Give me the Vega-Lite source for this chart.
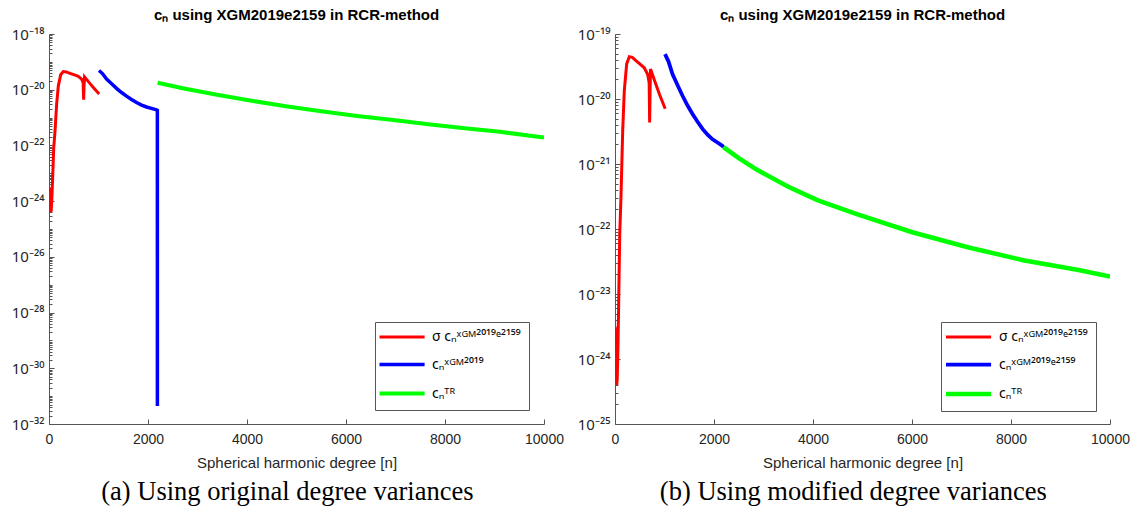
{
  "$schema": "https://vega.github.io/schema/vega-lite/v6.json",
  "background": "white",
  "padding": {"left": 11, "top": 8, "right": 5, "bottom": 5},
  "spacing": 13,
  "config": {
    "font": "Liberation Sans",
    "view": {"stroke": null},
    "axis": {
      "grid": false,
      "domainColor": "#555555",
      "tickColor": "#555555",
      "labelColor": "#262626",
      "titleColor": "#262626",
      "labelFontSize": 14,
      "titleFontSize": 15,
      "titleFontWeight": "normal",
      "tickSize": -5,
      "labelFlush": false,
      "labelOverlap": false
    },
    "title": {"fontSize": 15, "fontWeight": "bold", "color": "#000000", "font": "Liberation Sans"},
    "legend": {
      "orient": "none",
      "legendX": 326,
      "legendY": 288,
      "direction": "vertical",
      "title": null,
      "strokeColor": "#555555",
      "fillColor": "white",
      "padding": 8,
      "symbolType": "M-2,0H6.2",
      "symbolSize": 121,
      "symbolStrokeWidth": 3,
      "labelOffset": 34,
      "labelFont": "Noto Sans",
      "labelFontSize": 14,
      "labelColor": "#000000",
      "rowPadding": 13
    }
  },
  "datasets": {
    "left": [
      {"n": 2, "c": 3.16e-24, "s": "σ cₙˣᴳᴹ²⁰¹⁹ᵉ²¹⁵⁹"},
      {"n": 8, "c": 1.12e-24, "s": "σ cₙˣᴳᴹ²⁰¹⁹ᵉ²¹⁵⁹"},
      {"n": 14, "c": 2.82e-24, "s": "σ cₙˣᴳᴹ²⁰¹⁹ᵉ²¹⁵⁹"},
      {"n": 20, "c": 6.31e-25, "s": "σ cₙˣᴳᴹ²⁰¹⁹ᵉ²¹⁵⁹"},
      {"n": 27, "c": 2.51e-24, "s": "σ cₙˣᴳᴹ²⁰¹⁹ᵉ²¹⁵⁹"},
      {"n": 35, "c": 3.98e-25, "s": "σ cₙˣᴳᴹ²⁰¹⁹ᵉ²¹⁵⁹"},
      {"n": 45, "c": 5.01e-25, "s": "σ cₙˣᴳᴹ²⁰¹⁹ᵉ²¹⁵⁹"},
      {"n": 60, "c": 1.585e-24, "s": "σ cₙˣᴳᴹ²⁰¹⁹ᵉ²¹⁵⁹"},
      {"n": 75, "c": 7.94e-24, "s": "σ cₙˣᴳᴹ²⁰¹⁹ᵉ²¹⁵⁹"},
      {"n": 95, "c": 7.94e-23, "s": "σ cₙˣᴳᴹ²⁰¹⁹ᵉ²¹⁵⁹"},
      {"n": 121, "c": 3.16e-22, "s": "σ cₙˣᴳᴹ²⁰¹⁹ᵉ²¹⁵⁹"},
      {"n": 155, "c": 3.16e-21, "s": "σ cₙˣᴳᴹ²⁰¹⁹ᵉ²¹⁵⁹"},
      {"n": 188, "c": 1.349e-20, "s": "σ cₙˣᴳᴹ²⁰¹⁹ᵉ²¹⁵⁹"},
      {"n": 236, "c": 3.467e-20, "s": "σ cₙˣᴳᴹ²⁰¹⁹ᵉ²¹⁵⁹"},
      {"n": 289, "c": 4.467e-20, "s": "σ cₙˣᴳᴹ²⁰¹⁹ᵉ²¹⁵⁹"},
      {"n": 350, "c": 4.365e-20, "s": "σ cₙˣᴳᴹ²⁰¹⁹ᵉ²¹⁵⁹"},
      {"n": 423, "c": 3.89e-20, "s": "σ cₙˣᴳᴹ²⁰¹⁹ᵉ²¹⁵⁹"},
      {"n": 500, "c": 3.467e-20, "s": "σ cₙˣᴳᴹ²⁰¹⁹ᵉ²¹⁵⁹"},
      {"n": 591, "c": 3.02e-20, "s": "σ cₙˣᴳᴹ²⁰¹⁹ᵉ²¹⁵⁹"},
      {"n": 659, "c": 2.40e-20, "s": "σ cₙˣᴳᴹ²⁰¹⁹ᵉ²¹⁵⁹"},
      {"n": 690, "c": 1.778e-20, "s": "σ cₙˣᴳᴹ²⁰¹⁹ᵉ²¹⁵⁹"},
      {"n": 700, "c": 4.365e-21, "s": "σ cₙˣᴳᴹ²⁰¹⁹ᵉ²¹⁵⁹"},
      {"n": 708, "c": 1.259e-20, "s": "σ cₙˣᴳᴹ²⁰¹⁹ᵉ²¹⁵⁹"},
      {"n": 718, "c": 2.884e-20, "s": "σ cₙˣᴳᴹ²⁰¹⁹ᵉ²¹⁵⁹"},
      {"n": 800, "c": 1.905e-20, "s": "σ cₙˣᴳᴹ²⁰¹⁹ᵉ²¹⁵⁹"},
      {"n": 900, "c": 1.175e-20, "s": "σ cₙˣᴳᴹ²⁰¹⁹ᵉ²¹⁵⁹"},
      {"n": 1014, "c": 7.08e-21, "s": "σ cₙˣᴳᴹ²⁰¹⁹ᵉ²¹⁵⁹"},
      {"n": 1010, "c": 4.90e-20, "s": "cₙˣᴳᴹ²⁰¹⁹"},
      {"n": 1080, "c": 3.80e-20, "s": "cₙˣᴳᴹ²⁰¹⁹"},
      {"n": 1163, "c": 2.40e-20, "s": "cₙˣᴳᴹ²⁰¹⁹"},
      {"n": 1260, "c": 1.66e-20, "s": "cₙˣᴳᴹ²⁰¹⁹"},
      {"n": 1364, "c": 1.122e-20, "s": "cₙˣᴳᴹ²⁰¹⁹"},
      {"n": 1466, "c": 7.94e-21, "s": "cₙˣᴳᴹ²⁰¹⁹"},
      {"n": 1566, "c": 5.89e-21, "s": "cₙˣᴳᴹ²⁰¹⁹"},
      {"n": 1668, "c": 4.467e-21, "s": "cₙˣᴳᴹ²⁰¹⁹"},
      {"n": 1768, "c": 3.467e-21, "s": "cₙˣᴳᴹ²⁰¹⁹"},
      {"n": 1870, "c": 2.818e-21, "s": "cₙˣᴳᴹ²⁰¹⁹"},
      {"n": 1970, "c": 2.399e-21, "s": "cₙˣᴳᴹ²⁰¹⁹"},
      {"n": 2070, "c": 2.138e-21, "s": "cₙˣᴳᴹ²⁰¹⁹"},
      {"n": 2171, "c": 1.905e-21, "s": "cₙˣᴳᴹ²⁰¹⁹"},
      {"n": 2189, "c": 1.82e-21, "s": "cₙˣᴳᴹ²⁰¹⁹"},
      {"n": 2190, "c": 4.467e-32, "s": "cₙˣᴳᴹ²⁰¹⁹"},
      {"n": 2195, "c": 1.778e-20, "s": "cₙᵀᴿ"},
      {"n": 2700, "c": 1.122e-20, "s": "cₙᵀᴿ"},
      {"n": 3339, "c": 6.918e-21, "s": "cₙᵀᴿ"},
      {"n": 4000, "c": 4.266e-21, "s": "cₙᵀᴿ"},
      {"n": 4782, "c": 2.570e-21, "s": "cₙᵀᴿ"},
      {"n": 5500, "c": 1.698e-21, "s": "cₙᵀᴿ"},
      {"n": 6224, "c": 1.148e-21, "s": "cₙᵀᴿ"},
      {"n": 7000, "c": 7.943e-22, "s": "cₙᵀᴿ"},
      {"n": 7665, "c": 5.754e-22, "s": "cₙᵀᴿ"},
      {"n": 8400, "c": 4.169e-22, "s": "cₙᵀᴿ"},
      {"n": 9107, "c": 3.090e-22, "s": "cₙᵀᴿ"},
      {"n": 10000, "c": 1.905e-22, "s": "cₙᵀᴿ"}
    ],
    "right": [
      {"n": 2, "c": 3.16e-24, "s": "σ cₙˣᴳᴹ²⁰¹⁹ᵉ²¹⁵⁹"},
      {"n": 8, "c": 1.12e-24, "s": "σ cₙˣᴳᴹ²⁰¹⁹ᵉ²¹⁵⁹"},
      {"n": 14, "c": 2.82e-24, "s": "σ cₙˣᴳᴹ²⁰¹⁹ᵉ²¹⁵⁹"},
      {"n": 20, "c": 6.31e-25, "s": "σ cₙˣᴳᴹ²⁰¹⁹ᵉ²¹⁵⁹"},
      {"n": 27, "c": 2.51e-24, "s": "σ cₙˣᴳᴹ²⁰¹⁹ᵉ²¹⁵⁹"},
      {"n": 35, "c": 3.98e-25, "s": "σ cₙˣᴳᴹ²⁰¹⁹ᵉ²¹⁵⁹"},
      {"n": 45, "c": 5.01e-25, "s": "σ cₙˣᴳᴹ²⁰¹⁹ᵉ²¹⁵⁹"},
      {"n": 60, "c": 1.585e-24, "s": "σ cₙˣᴳᴹ²⁰¹⁹ᵉ²¹⁵⁹"},
      {"n": 75, "c": 7.94e-24, "s": "σ cₙˣᴳᴹ²⁰¹⁹ᵉ²¹⁵⁹"},
      {"n": 95, "c": 7.94e-23, "s": "σ cₙˣᴳᴹ²⁰¹⁹ᵉ²¹⁵⁹"},
      {"n": 121, "c": 3.16e-22, "s": "σ cₙˣᴳᴹ²⁰¹⁹ᵉ²¹⁵⁹"},
      {"n": 155, "c": 3.16e-21, "s": "σ cₙˣᴳᴹ²⁰¹⁹ᵉ²¹⁵⁹"},
      {"n": 188, "c": 1.349e-20, "s": "σ cₙˣᴳᴹ²⁰¹⁹ᵉ²¹⁵⁹"},
      {"n": 236, "c": 3.467e-20, "s": "σ cₙˣᴳᴹ²⁰¹⁹ᵉ²¹⁵⁹"},
      {"n": 289, "c": 4.467e-20, "s": "σ cₙˣᴳᴹ²⁰¹⁹ᵉ²¹⁵⁹"},
      {"n": 350, "c": 4.365e-20, "s": "σ cₙˣᴳᴹ²⁰¹⁹ᵉ²¹⁵⁹"},
      {"n": 423, "c": 3.89e-20, "s": "σ cₙˣᴳᴹ²⁰¹⁹ᵉ²¹⁵⁹"},
      {"n": 500, "c": 3.467e-20, "s": "σ cₙˣᴳᴹ²⁰¹⁹ᵉ²¹⁵⁹"},
      {"n": 591, "c": 3.02e-20, "s": "σ cₙˣᴳᴹ²⁰¹⁹ᵉ²¹⁵⁹"},
      {"n": 659, "c": 2.40e-20, "s": "σ cₙˣᴳᴹ²⁰¹⁹ᵉ²¹⁵⁹"},
      {"n": 690, "c": 1.778e-20, "s": "σ cₙˣᴳᴹ²⁰¹⁹ᵉ²¹⁵⁹"},
      {"n": 700, "c": 4.365e-21, "s": "σ cₙˣᴳᴹ²⁰¹⁹ᵉ²¹⁵⁹"},
      {"n": 708, "c": 1.259e-20, "s": "σ cₙˣᴳᴹ²⁰¹⁹ᵉ²¹⁵⁹"},
      {"n": 718, "c": 2.884e-20, "s": "σ cₙˣᴳᴹ²⁰¹⁹ᵉ²¹⁵⁹"},
      {"n": 800, "c": 1.905e-20, "s": "σ cₙˣᴳᴹ²⁰¹⁹ᵉ²¹⁵⁹"},
      {"n": 900, "c": 1.175e-20, "s": "σ cₙˣᴳᴹ²⁰¹⁹ᵉ²¹⁵⁹"},
      {"n": 1014, "c": 7.08e-21, "s": "σ cₙˣᴳᴹ²⁰¹⁹ᵉ²¹⁵⁹"},
      {"n": 1010, "c": 4.90e-20, "s": "cₙˣᴳᴹ²⁰¹⁹ᵉ²¹⁵⁹"},
      {"n": 1080, "c": 3.80e-20, "s": "cₙˣᴳᴹ²⁰¹⁹ᵉ²¹⁵⁹"},
      {"n": 1163, "c": 2.40e-20, "s": "cₙˣᴳᴹ²⁰¹⁹ᵉ²¹⁵⁹"},
      {"n": 1260, "c": 1.66e-20, "s": "cₙˣᴳᴹ²⁰¹⁹ᵉ²¹⁵⁹"},
      {"n": 1364, "c": 1.122e-20, "s": "cₙˣᴳᴹ²⁰¹⁹ᵉ²¹⁵⁹"},
      {"n": 1466, "c": 7.94e-21, "s": "cₙˣᴳᴹ²⁰¹⁹ᵉ²¹⁵⁹"},
      {"n": 1566, "c": 5.89e-21, "s": "cₙˣᴳᴹ²⁰¹⁹ᵉ²¹⁵⁹"},
      {"n": 1668, "c": 4.467e-21, "s": "cₙˣᴳᴹ²⁰¹⁹ᵉ²¹⁵⁹"},
      {"n": 1768, "c": 3.467e-21, "s": "cₙˣᴳᴹ²⁰¹⁹ᵉ²¹⁵⁹"},
      {"n": 1870, "c": 2.818e-21, "s": "cₙˣᴳᴹ²⁰¹⁹ᵉ²¹⁵⁹"},
      {"n": 1970, "c": 2.399e-21, "s": "cₙˣᴳᴹ²⁰¹⁹ᵉ²¹⁵⁹"},
      {"n": 2070, "c": 2.138e-21, "s": "cₙˣᴳᴹ²⁰¹⁹ᵉ²¹⁵⁹"},
      {"n": 2171, "c": 1.905e-21, "s": "cₙˣᴳᴹ²⁰¹⁹ᵉ²¹⁵⁹"},
      {"n": 2190, "c": 1.82e-21, "s": "cₙˣᴳᴹ²⁰¹⁹ᵉ²¹⁵⁹"},
      {"n": 2190, "c": 1.82e-21, "s": "cₙᵀᴿ"},
      {"n": 2500, "c": 1.23e-21, "s": "cₙᵀᴿ"},
      {"n": 2869, "c": 8.13e-22, "s": "cₙᵀᴿ"},
      {"n": 3500, "c": 4.467e-22, "s": "cₙᵀᴿ"},
      {"n": 4100, "c": 2.754e-22, "s": "cₙᵀᴿ"},
      {"n": 4885, "c": 1.698e-22, "s": "cₙᵀᴿ"},
      {"n": 6006, "c": 8.913e-23, "s": "cₙᵀᴿ"},
      {"n": 7125, "c": 5.248e-23, "s": "cₙᵀᴿ"},
      {"n": 8246, "c": 3.311e-23, "s": "cₙᵀᴿ"},
      {"n": 9365, "c": 2.344e-23, "s": "cₙᵀᴿ"},
      {"n": 10000, "c": 1.862e-23, "s": "cₙᵀᴿ"}
    ]
  },
  "hconcat": [
    {
      "vconcat": [
        {
          "width": 495,
          "height": 390,
          "title": {"text": "cₙ using XGM2019e2159 in RCR-method", "offset": 4, "frame": "group"},
          "data": {"name": "left"},
          "encoding": {
            "x": {
              "field": "n", "type": "quantitative",
              "scale": {"domain": [0, 10000], "nice": false},
              "axis": {"title": "Spherical harmonic degree [n]", "values": [0, 2000, 4000, 6000, 8000, 10000], "format": "d", "labelPadding": 13, "titlePadding": 9}
            },
            "color": {
              "field": "s", "type": "nominal",
              "scale": {"domain": ["σ cₙˣᴳᴹ²⁰¹⁹ᵉ²¹⁵⁹", "cₙˣᴳᴹ²⁰¹⁹", "cₙᵀᴿ"], "range": ["#ff0000", "#0000ff", "#00ff00"]},
              "legend": {"values": ["σ cₙˣᴳᴹ²⁰¹⁹ᵉ²¹⁵⁹", "cₙˣᴳᴹ²⁰¹⁹", "cₙᵀᴿ"]}
            },
            "strokeWidth": {
              "field": "s", "type": "nominal",
              "scale": {"domain": ["σ cₙˣᴳᴹ²⁰¹⁹ᵉ²¹⁵⁹", "cₙˣᴳᴹ²⁰¹⁹", "cₙᵀᴿ"], "range": [3, 4, 3]},
              "legend": null
            }
          },
          "layer": [
            {
              "transform": [{"filter": "datum.s != 'cₙᵀᴿ'"}],
              "mark": {"type": "line", "clip": true},
              "encoding": {
                "y": {
                  "field": "c", "type": "quantitative",
                  "scale": {"type": "log", "domain": [1e-32, 1e-18], "nice": false},
                  "axis": {"title": null, "orient": "left", "values": [1e-32, 1e-30, 1e-28, 1e-26, 1e-24, 1e-22, 1e-20, 1e-18], "labelPadding": 10, "labelFont": "Noto Sans", "labelFontSize": 15,
                    "labelExpr": "'10' + {'-18':'⁻¹⁸','-19':'⁻¹⁹','-20':'⁻²⁰','-21':'⁻²¹','-22':'⁻²²','-23':'⁻²³','-24':'⁻²⁴','-25':'⁻²⁵','-26':'⁻²⁶','-28':'⁻²⁸','-30':'⁻³⁰','-32':'⁻³²'}['' + round(log(datum.value)/LN10)]"}
                }
              }
            },
            {
              "transform": [{"filter": "datum.s == 'cₙᵀᴿ'"}],
              "mark": {"type": "line", "clip": true},
              "encoding": {
                "y": {
                  "field": "c", "type": "quantitative",
                  "scale": {"type": "log", "domain": [1e-32, 1e-18], "nice": false},
                  "axis": {"title": null, "orient": "left", "labels": false, "domain": false, "tickSize": -3,
                    "values": [2e-32,3e-32,4e-32,5e-32,6e-32,7e-32,8e-32,9e-32,1e-31,2e-31,3e-31,4e-31,5e-31,6e-31,7e-31,8e-31,9e-31,2e-30,3e-30,4e-30,5e-30,6e-30,7e-30,8e-30,9e-30,1e-29,2e-29,3e-29,4e-29,5e-29,6e-29,7e-29,8e-29,9e-29,2e-28,3e-28,4e-28,5e-28,6e-28,7e-28,8e-28,9e-28,1e-27,2e-27,3e-27,4e-27,5e-27,6e-27,7e-27,8e-27,9e-27,2e-26,3e-26,4e-26,5e-26,6e-26,7e-26,8e-26,9e-26,1e-25,2e-25,3e-25,4e-25,5e-25,6e-25,7e-25,8e-25,9e-25,2e-24,3e-24,4e-24,5e-24,6e-24,7e-24,8e-24,9e-24,1e-23,2e-23,3e-23,4e-23,5e-23,6e-23,7e-23,8e-23,9e-23,2e-22,3e-22,4e-22,5e-22,6e-22,7e-22,8e-22,9e-22,1e-21,2e-21,3e-21,4e-21,5e-21,6e-21,7e-21,8e-21,9e-21,2e-20,3e-20,4e-20,5e-20,6e-20,7e-20,8e-20,9e-20,1e-19,2e-19,3e-19,4e-19,5e-19,6e-19,7e-19,8e-19,9e-19]}
                }
              }
            }
          ],
          "resolve": {"axis": {"y": "independent"}}
        }
      ],
      "title": {"text": "(a) Using original degree variances", "orient": "bottom", "anchor": "middle", "font": "Liberation Serif", "fontSize": 26.5, "fontWeight": "normal", "color": "#000000", "offset": 9}
    },
    {
      "vconcat": [
        {
          "width": 495,
          "height": 390,
          "title": {"text": "cₙ using XGM2019e2159 in RCR-method", "offset": 4, "frame": "group"},
          "data": {"name": "right"},
          "encoding": {
            "x": {
              "field": "n", "type": "quantitative",
              "scale": {"domain": [0, 10000], "nice": false},
              "axis": {"title": "Spherical harmonic degree [n]", "values": [0, 2000, 4000, 6000, 8000, 10000], "format": "d", "labelPadding": 13, "titlePadding": 9}
            },
            "color": {
              "field": "s", "type": "nominal",
              "scale": {"domain": ["σ cₙˣᴳᴹ²⁰¹⁹ᵉ²¹⁵⁹", "cₙˣᴳᴹ²⁰¹⁹ᵉ²¹⁵⁹", "cₙᵀᴿ"], "range": ["#ff0000", "#0000ff", "#00ff00"]},
              "legend": {"values": ["σ cₙˣᴳᴹ²⁰¹⁹ᵉ²¹⁵⁹", "cₙˣᴳᴹ²⁰¹⁹ᵉ²¹⁵⁹", "cₙᵀᴿ"]}
            },
            "strokeWidth": {
              "field": "s", "type": "nominal",
              "scale": {"domain": ["σ cₙˣᴳᴹ²⁰¹⁹ᵉ²¹⁵⁹", "cₙˣᴳᴹ²⁰¹⁹ᵉ²¹⁵⁹", "cₙᵀᴿ"], "range": [3, 4.5, 3]},
              "legend": null
            }
          },
          "layer": [
            {
              "transform": [{"filter": "datum.s != 'cₙᵀᴿ'"}],
              "mark": {"type": "line", "clip": true},
              "encoding": {
                "y": {
                  "field": "c", "type": "quantitative",
                  "scale": {"type": "log", "domain": [1e-25, 1e-19], "nice": false},
                  "axis": {"title": null, "orient": "left", "values": [1e-25, 1e-24, 1e-23, 1e-22, 1e-21, 1e-20, 1e-19], "labelPadding": 10, "labelFont": "Noto Sans", "labelFontSize": 15,
                    "labelExpr": "'10' + {'-18':'⁻¹⁸','-19':'⁻¹⁹','-20':'⁻²⁰','-21':'⁻²¹','-22':'⁻²²','-23':'⁻²³','-24':'⁻²⁴','-25':'⁻²⁵','-26':'⁻²⁶','-28':'⁻²⁸','-30':'⁻³⁰','-32':'⁻³²'}['' + round(log(datum.value)/LN10)]"}
                }
              }
            },
            {
              "transform": [{"filter": "datum.s == 'cₙᵀᴿ'"}],
              "mark": {"type": "line", "clip": true},
              "encoding": {
                "y": {
                  "field": "c", "type": "quantitative",
                  "scale": {"type": "log", "domain": [1e-25, 1e-19], "nice": false},
                  "axis": {"title": null, "orient": "left", "labels": false, "domain": false, "tickSize": -3,
                    "values": [2e-25,3e-25,4e-25,5e-25,6e-25,7e-25,8e-25,9e-25,2e-24,3e-24,4e-24,5e-24,6e-24,7e-24,8e-24,9e-24,2e-23,3e-23,4e-23,5e-23,6e-23,7e-23,8e-23,9e-23,2e-22,3e-22,4e-22,5e-22,6e-22,7e-22,8e-22,9e-22,2e-21,3e-21,4e-21,5e-21,6e-21,7e-21,8e-21,9e-21,2e-20,3e-20,4e-20,5e-20,6e-20,7e-20,8e-20,9e-20]}
                }
              }
            }
          ],
          "resolve": {"axis": {"y": "independent"}}
        }
      ],
      "title": {"text": "(b) Using modified degree variances", "orient": "bottom", "anchor": "middle", "font": "Liberation Serif", "fontSize": 26.5, "fontWeight": "normal", "color": "#000000", "offset": 9}
    }
  ],
  "resolve": {"scale": {"color": "independent", "strokeWidth": "independent", "x": "independent", "y": "independent"}, "legend": {"color": "independent"}}
}
